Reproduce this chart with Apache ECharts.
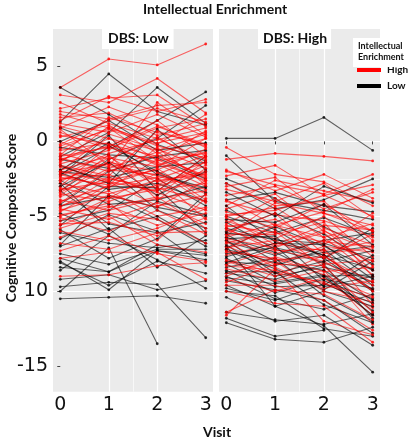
<!DOCTYPE html>
<html><head><meta charset="utf-8">
<script src="https://cdn.jsdelivr.net/npm/echarts@6/dist/echarts.min.js"></script>
<style>html,body{margin:0;padding:0;background:#fff}#c{width:409px;height:440px}</style>
</head><body><div id="c"></div>
<script>
const visits = [0, 1, 2, 3];
const xTickLabels = ['0', '1', '2', '3'];
const xMinorBreaks = [0.5, 1.5, 2.5];
const yTicks = [-15, -10, -5, 0, 5];
const yTickLabels = ['-15', '10', '-5', '0', '5'];
const yMinorBreaks = [-12.5, -7.5, -2.5, 2.5];
const panelTitles = ['DBS: Low', 'DBS: High'];
const groupNames = ['High', 'Low'];

// DBS: Low panel, Intellectual Enrichment High (red)
const lowRed = [
  [3.6, 5.5, 5.1, 6.5], [3.1, 2.6, 4.2, 1.9], [2.2, 2.9, 3.1, 1.0], [2.0, 1.5, 2.4, 2.6],
  [1.6, 1.9, 0.4, 1.2], [1.2, 0.6, 1.8, 0.3], [0.9, 2.3, 1.1, -0.4], [0.6, -0.5, 0.9, 1.5],
  [0.3, 1.1, -0.8, 0.2], [0.0, -1.2, 0.3, -1.5], [-0.3, 0.8, -0.2, 1.8], [-0.6, -0.1, -1.6, -0.7],
  [-0.9, 1.6, 0.6, -0.2], [-1.1, -2.0, -0.9, -2.4], [-1.3, 0.2, -1.2, 0.7], [-1.5, -0.6, 1.4, -1.0],
  [-1.7, -2.6, -1.9, -0.5], [-1.9, -1.0, -3.0, -2.1], [-2.0, 0.5, -0.5, -1.8], [-2.1, -1.5, -2.3, -3.2],
  [-2.2, -3.1, -1.2, -2.7], [-2.3, -0.8, 0.1, 0.9], [-2.5, -2.2, -3.6, -1.3], [-2.6, -1.4, -2.0, -4.1],
  [-2.8, -3.5, -2.6, -2.2], [-3.0, -0.3, -1.5, -3.0], [-3.2, -2.7, -4.3, -3.6], [-3.4, -1.8, -0.7, -2.5],
  [-3.5, -4.0, -2.9, -1.6], [-3.7, -2.4, -3.4, -4.6], [-3.9, -4.6, -3.8, -3.3], [-4.1, -1.9, -2.2, -0.9],
  [-4.3, -3.3, -5.0, -4.4], [-4.5, -5.2, -4.1, -5.5], [-4.7, -2.9, -1.8, -3.9], [-4.9, -4.3, -5.6, -4.8],
  [-5.1, -6.0, -4.6, -6.2], [-5.3, -3.8, -3.2, -2.8], [-5.5, -5.4, -6.3, -5.1], [-5.8, -4.8, -5.2, -6.8],
  [-6.0, -6.6, -5.8, -4.5], [-6.4, -5.0, -6.9, -7.4], [-6.8, -7.2, -6.1, -6.0], [-7.3, -6.3, -7.5, -8.0],
  [-9.0, -8.9, -8.3, -8.1], [-7.8, -7.4, -7.4, -9.2], [1.4, 3.0, 2.0, 2.8], [-0.8, -1.7, 2.6, 0.4],
  [-1.4, 1.0, -0.3, -1.1], [-2.4, -2.9, -0.4, -2.9], [-3.3, -0.9, -3.9, -1.8], [0.4, -0.2, -1.0, -2.3],
  [-4.0, -3.0, -2.4, -5.2], [-5.0, -4.1, -6.6, -3.8], [2.6, 1.2, 0.2, -1.2],
  [1.0, 0.2, -0.6, 0.5], [-0.2, 1.4, 2.2, 1.3], [-1.0, -0.4, -1.4, -2.6], [-1.6, -2.3, 0.7, -0.3],
  [-2.7, -1.1, -1.7, 0.2], [-3.1, -3.8, -2.1, -3.5], [0.8, -1.6, -2.5, -1.4], [-0.5, 0.9, -1.3, -0.8],
  [-3.6, -1.3, -2.7, -2.0], [-4.4, -2.5, -3.1, -4.0], [1.8, 0.9, -0.1, 0.6], [-1.2, -0.3, 1.0, -0.2],
  [-2.0, -2.7, -3.3, -1.0], [-4.6, -3.6, -4.4, -2.6], [-5.6, -4.4, -3.7, -5.8]
];
// DBS: Low panel, Intellectual Enrichment Low (black)
const lowBlack = [
  [1.3, 4.5, 2.0, 1.1], [3.6, 1.8, -0.2, -1.3], [-1.0, 0.6, 3.6, 1.2], [-2.2, -0.4, 1.4, 3.3],
  [-3.3, -1.2, 0.2, 2.4], [-0.4, -0.9, -1.1, -2.5], [-2.0, -2.4, -1.7, -1.4], [-2.1, -3.2, -2.8, -4.0],
  [-2.3, 0.4, -3.3, -1.0], [-2.6, -4.2, -3.9, -3.0], [-1.2, -1.8, -4.6, -5.8], [-3.3, -5.5, -6.1, -5.4],
  [-4.2, -2.0, -1.0, -0.6], [-4.3, -3.7, -5.2, -7.0], [-5.3, -4.6, -2.5, -4.3], [-5.9, -7.8, -6.5, -3.5],
  [-6.1, -6.8, -7.1, -6.6], [-6.5, -4.9, -6.0, -8.3], [-6.9, -3.6, -4.4, -5.0], [-7.5, -8.2, -7.2, -7.2],
  [-7.8, -8.7, -6.9, -7.5], [-8.0, -9.9, -7.3, -7.6], [-8.6, -6.3, -7.9, -9.8], [-9.7, -9.4, -9.55, -13.1],
  [-10.0, -7.1, -13.5, null], [-10.5, -10.4, -10.3, -10.8], [-9.2, -8.9, -9.9, -9.3], [0.9, -0.3, -2.0, -3.4],
  [0.0, 1.4, -0.6, -0.1], [-1.6, -2.8, 0.8, -1.9], [-3.0, -1.4, -3.6, -2.0], [-4.8, -6.2, -4.0, -4.9],
  [-5.6, -3.0, -3.1, -6.1], [-7.0, -5.8, -8.4, -6.3], [-2.8, -5.9, -5.0, -6.8], [-1.9, -0.1, -2.2, -3.1],
  [-8.1, -9.6, -8.0, -8.8], [-8.4, -8.7, -7.3, -7.9]
];
// DBS: High panel, Intellectual Enrichment High (red)
const highRed = [
  [-0.4, -2.2, -2.7, -4.3], [-1.2, -0.8, -1.0, -1.3], [-1.9, -3.3, -2.2, -3.8], [-2.3, -1.6, -3.6, -2.9],
  [-3.2, -4.0, -2.8, -5.1], [-3.6, -3.0, -4.5, -3.4], [-4.0, -4.9, -5.3, -6.4], [-4.3, -2.6, -3.3, -4.0],
  [-4.7, -5.8, -4.2, -6.0], [-5.0, -4.4, -6.4, -5.5], [-5.3, -6.5, -5.0, -7.7], [-5.5, -3.8, -5.8, -6.9],
  [-5.7, -5.2, -6.9, -4.8], [-5.9, -7.0, -6.1, -8.6], [-6.1, -4.8, -7.5, -7.1], [-6.2, -6.2, -5.4, -9.0],
  [-6.4, -5.5, -7.8, -6.2], [-6.6, -7.5, -6.6, -8.0], [-6.8, -6.0, -8.4, -9.6], [-7.0, -8.2, -7.0, -7.4],
  [-7.2, -5.6, -6.4, -8.9], [-7.4, -7.8, -8.9, -10.3], [-7.6, -6.8, -7.3, -6.7], [-7.9, -8.8, -9.4, -11.1],
  [-8.2, -7.2, -8.0, -9.9], [-8.5, -9.3, -8.6, -12.2], [-8.8, -8.0, -10.0, -10.7], [-9.2, -10.0, -9.1, -11.6],
  [-9.6, -9.6, -10.6, -12.6], [-10.0, -10.8, -11.0, -13.4], [-11.4, -9.9, -10.2, -11.9], [-11.6, -8.5, -12.0, -12.9],
  [-2.8, -4.3, -4.0, -6.6], [-3.9, -5.6, -4.7, -3.2], [-4.5, -3.5, -6.0, -7.3], [-5.1, -6.9, -5.6, -5.9],
  [-6.3, -4.1, -4.8, -6.0], [-7.1, -6.6, -8.2, -7.9], [-8.0, -9.0, -7.6, -10.0], [-6.7, -8.4, -9.8, -9.3],
  [-5.8, -7.3, -7.2, -10.9], [-9.0, -7.7, -8.7, -8.4],
  [-3.0, -2.4, -4.8, -5.6], [-4.9, -4.6, -3.6, -5.0], [-5.6, -6.1, -6.7, -7.0], [-6.5, -7.1, -5.9, -8.3],
  [-7.3, -7.9, -7.7, -9.4], [-8.3, -8.6, -9.5, -10.4], [-9.4, -8.2, -8.3, -11.4], [-2.0, -2.9, -3.5, -2.2]
];
// DBS: High panel, Intellectual Enrichment Low (black)
const highBlack = [
  [0.2, 0.2, 1.6, -0.6], [-0.95, -4.0, -4.6, -5.2], [-2.5, -3.8, -5.7, -7.3], [-2.8, -4.5, -3.9, -2.5],
  [-3.9, -3.4, -4.3, -4.7], [-4.6, -5.9, -7.8, -5.8], [-5.0, -6.1, -5.1, -6.3], [-5.4, -7.2, -8.1, -9.4],
  [-5.8, -6.6, -6.8, -7.8], [-6.0, -4.8, -6.2, -8.2], [-6.2, -8.0, -7.4, -7.0], [-6.5, -6.3, -9.3, -10.5],
  [-6.7, -7.6, -6.6, -6.1], [-6.9, -9.0, -8.4, -9.1], [-7.1, -5.7, -7.0, -8.6], [-7.3, -8.5, -9.9, -8.0],
  [-7.5, -7.1, -7.8, -10.0], [-7.8, -9.4, -8.9, -11.3], [-8.0, -8.3, -7.2, -9.6], [-8.2, -9.7, -9.6, -7.6],
  [-8.4, -7.8, -10.3, -12.0], [-8.6, -10.1, -9.2, -9.8], [-8.8, -9.2, -8.2, -11.8], [-9.0, -10.5, -11.2, -10.2],
  [-9.3, -9.9, -10.6, -12.8], [-9.6, -11.0, -10.0, -11.0], [-10.0, -10.3, -12.5, -13.0], [-10.4, -12.0, -11.6, -13.6],
  [-11.4, -11.9, -12.2, -11.5], [-11.8, -13.0, -12.6, null], [-12.1, -13.2, -13.4, -12.4], [-7.0, -11.0, -12.3, -15.4],
  [-5.2, -5.4, -4.2, -6.9], [-6.4, -7.4, -9.0, -8.9], [-7.7, -6.8, -6.9, -9.2], [-8.7, -8.7, -10.9, -12.1],
  [-9.8, -10.6, -9.5, -10.8], [-4.3, -6.7, -7.6, -9.9], [-3.4, -5.0, -3.0, -4.1], [-6.6, -8.8, -8.0, -7.3],
  [-6.1, -6.5, -7.6, -8.5], [-7.2, -8.1, -8.6, -10.6], [-8.1, -7.0, -9.7, -9.0], [-9.1, -9.5, -9.0, -11.6]
];

const RED = '#ff0000', BLACK = '#000000';

function lineSeries(row, panel, name, color) {
  return {
    type: 'line', name: name, xAxisIndex: panel * 2, yAxisIndex: panel * 2,
    data: row.map((v, i) => [visits[i], v]),
    connectNulls: false, silent: true, animation: false,
    symbol: 'circle', symbolSize: 2.8, showSymbol: true,
    lineStyle: { color: color, width: 1.1, opacity: 0.6 },
    itemStyle: { color: color, opacity: 0.8 },
    emphasis: { disabled: true }, z: 3
  };
}

const series = [];
function addPanel(red, black, panel) {
  const n = Math.max(red.length, black.length);
  for (let i = 0; i < n; i++) {
    if (i < black.length) series.push(lineSeries(black[i], panel, groupNames[1], BLACK));
    if (i < red.length) series.push(lineSeries(red[i], panel, groupNames[0], RED));
  }
}
addPanel(lowRed, lowBlack, 0);
addPanel(highRed, highBlack, 1);

const gridTop = 29, gridH = 362.7;
const grids = [
  { left: 53, top: gridTop, width: 160, height: gridH },
  { left: 219, top: gridTop, width: 161, height: gridH }
].map(g => Object.assign(g, { show: true, backgroundColor: '#ebebeb', borderWidth: 0 }));

const majorLine = { show: true, showMinLine: false, showMaxLine: false, lineStyle: { color: '#ffffff', width: 1.2 } };
const minorLine = { show: true, showMinLine: false, showMaxLine: false, lineStyle: { color: '#ffffff', width: 0.7, opacity: 0.9 } };
const X_MIN = -0.15, X_MAX = 3.15, Y_MIN = -16.7, Y_MAX = 7.5;

const xAxes = [];
const yAxes = [];
[0, 1].forEach(i => {
  xAxes.push({
    type: 'value', gridIndex: i, position: 'bottom', min: X_MIN, max: X_MAX,
    axisLine: { show: false },
    axisTick: { show: true, length: 3, customValues: visits, lineStyle: { color: '#444' } },
    axisLabel: {
      customValues: visits, margin: 4, fontFamily: 'DejaVu Sans', fontSize: 19, color: '#111',
      formatter: v => { const k = visits.indexOf(Math.round(v * 100) / 100); return k >= 0 ? xTickLabels[k] : ''; }
    },
    splitLine: majorLine
  });
  xAxes.push({
    type: 'value', gridIndex: i, position: 'top', min: X_MIN, max: X_MAX,
    axisLine: { show: false },
    axisTick: { show: false, customValues: xMinorBreaks },
    axisLabel: { show: false, customValues: xMinorBreaks },
    splitLine: minorLine
  });
  yAxes.push({
    type: 'value', gridIndex: i, position: 'left', min: Y_MIN, max: Y_MAX,
    axisLine: { show: false },
    axisTick: { show: i === 0, length: 3, customValues: yTicks, lineStyle: { color: '#444' } },
    axisLabel: {
      show: i === 0, customValues: yTicks, margin: 5, fontFamily: 'DejaVu Sans', fontSize: 19, color: '#111',
      formatter: v => { const k = yTicks.indexOf(Math.round(v * 100) / 100); return k >= 0 ? yTickLabels[k] : ''; }
    },
    splitLine: majorLine
  });
  yAxes.push({
    type: 'value', gridIndex: i, position: 'right', min: Y_MIN, max: Y_MAX,
    axisLine: { show: false },
    axisTick: { show: false, customValues: yMinorBreaks },
    axisLabel: { show: false, customValues: yMinorBreaks },
    splitLine: minorLine
  });
});

const boldFont = 'Lato';
const option = {
  animation: false,
  backgroundColor: '#ffffff',
  title: [
    { text: 'Intellectual Enrichment', left: 143, top: 2, padding: 0,
      textStyle: { fontFamily: boldFont, fontWeight: 'bold', fontSize: 14, color: '#111' } },
    { text: panelTitles[0], left: 102, top: 28, padding: [3, 5, 4, 6], backgroundColor: '#ffffff',
      textStyle: { fontFamily: boldFont, fontWeight: 'bold', fontSize: 14, color: '#111' } },
    { text: panelTitles[1], left: 258, top: 28, padding: [3, 4, 4, 5], backgroundColor: '#ffffff',
      textStyle: { fontFamily: boldFont, fontWeight: 'bold', fontSize: 14, color: '#111' } },
    { text: 'Intellectual\nEnrichment', left: 353, top: 38, padding: [3, 6, 4, 5], backgroundColor: '#ffffff',
      textStyle: { fontFamily: boldFont, fontWeight: 'bold', fontSize: 9, lineHeight: 11, color: '#111' } }
  ],
  legend: {
    data: [
      { name: groupNames[0], itemStyle: { color: RED, opacity: 1 } },
      { name: groupNames[1], itemStyle: { color: BLACK, opacity: 1 } }
    ],
    orient: 'vertical', left: 357, top: 65, padding: 0, icon: 'rect', itemWidth: 24, itemHeight: 4, itemGap: 6,
    selectedMode: false,
    textStyle: { fontFamily: boldFont, fontWeight: 'bold', fontSize: 10, color: '#111', padding: [0, 0, 0, 1] }
  },
  grid: grids,
  xAxis: xAxes,
  yAxis: yAxes,
  graphic: [
    { type: 'text', x: 217, y: 425,
      style: { text: 'Visit', font: 'bold 14px Lato', fill: '#111', align: 'center', verticalAlign: 'top' } },
    { type: 'text', x: 4, y: 218, rotation: Math.PI / 2,
      style: { text: 'Cognitive Composite Score', font: 'bold 14px Lato', fill: '#111', align: 'center', verticalAlign: 'top' } }
  ],
  series: series
};

const chart = echarts.init(document.getElementById('c'), null, { renderer: 'canvas' });
chart.setOption(option);
</script>
</body></html>
